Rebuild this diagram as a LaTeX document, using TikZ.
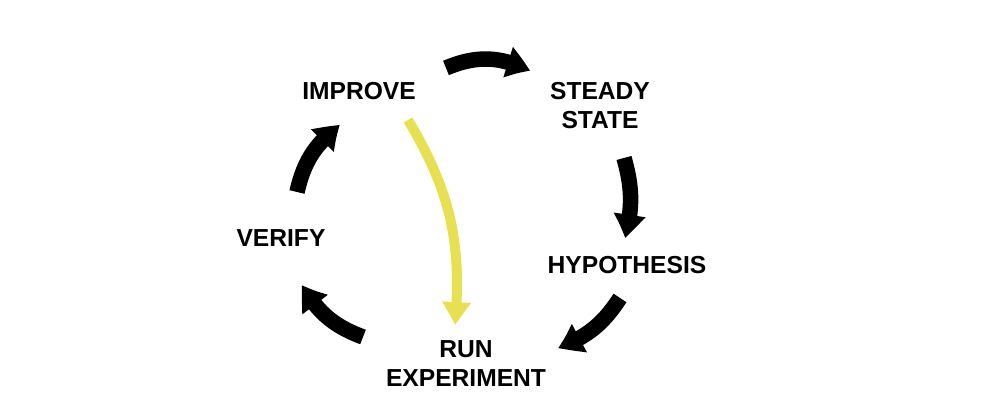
\documentclass[tikz,border=0pt]{standalone}
\usepackage{fontspec}
\setmainfont{Liberation Sans}
\usetikzlibrary{arrows.meta}
\usetikzlibrary{bending}
\definecolor{runyellow}{RGB}{230,224,82}

\begin{document}
\begin{tikzpicture}[
  stage/.style={font=\bfseries\fontsize{14}{16.5}\selectfont, align=center, inner sep=0pt},
  cycle/.style={line width=0.31cm, -{Triangle[length=0.48cm, width=0.6cm, bend]}},
  shortcut/.style={line width=0.2cm, runyellow, -{Triangle[length=0.46cm, width=0.54cm, bend]}}
]
\useasboundingbox (0, 0) rectangle (20, 8);

\node (improve) [stage] at (7.18, 6.18) {IMPROVE};
\node (steady) [stage] at (12.0, 5.88) {STEADY\\STATE};
\node (hypothesis) [stage] at (12.54, 2.7) {HYPOTHESIS};
\node (run) [stage] at (9.32, 0.72) {RUN\\EXPERIMENT};
\node (verify) [stage] at (5.62, 3.24) {VERIFY};

\coordinate (improve-out) at (8.92, 6.64);
\coordinate (steady-in) at (10.6, 6.58);
\coordinate (steady-out) at (12.48, 4.84);
\coordinate (hypothesis-in) at (12.5, 3.24);
\coordinate (hypothesis-out) at (12.4, 2.04);
\coordinate (run-in) at (11.16, 1.04);
\coordinate (run-out) at (7.26, 1.26);
\coordinate (verify-in) at (6.04, 2.3);
\coordinate (verify-out) at (5.94, 4.16);
\coordinate (improve-in) at (6.8, 5.5);
\coordinate (improve-skip) at (8.16, 5.6);
\coordinate (run-skip) at (9.1, 1.5);

\draw [cycle] (improve-out) to [bend left=25] (steady-in);
\draw [cycle] (steady-out) to [bend left=15] (hypothesis-in);
\draw [cycle] (hypothesis-out) to [bend left=18] (run-in);
\draw [cycle] (run-out) to [bend left=20] (verify-in);
\draw [cycle] (verify-out) to [bend left=20] (improve-in);

\draw [shortcut] (improve-skip) to [bend left=18] (run-skip);
\end{tikzpicture}
\end{document}
